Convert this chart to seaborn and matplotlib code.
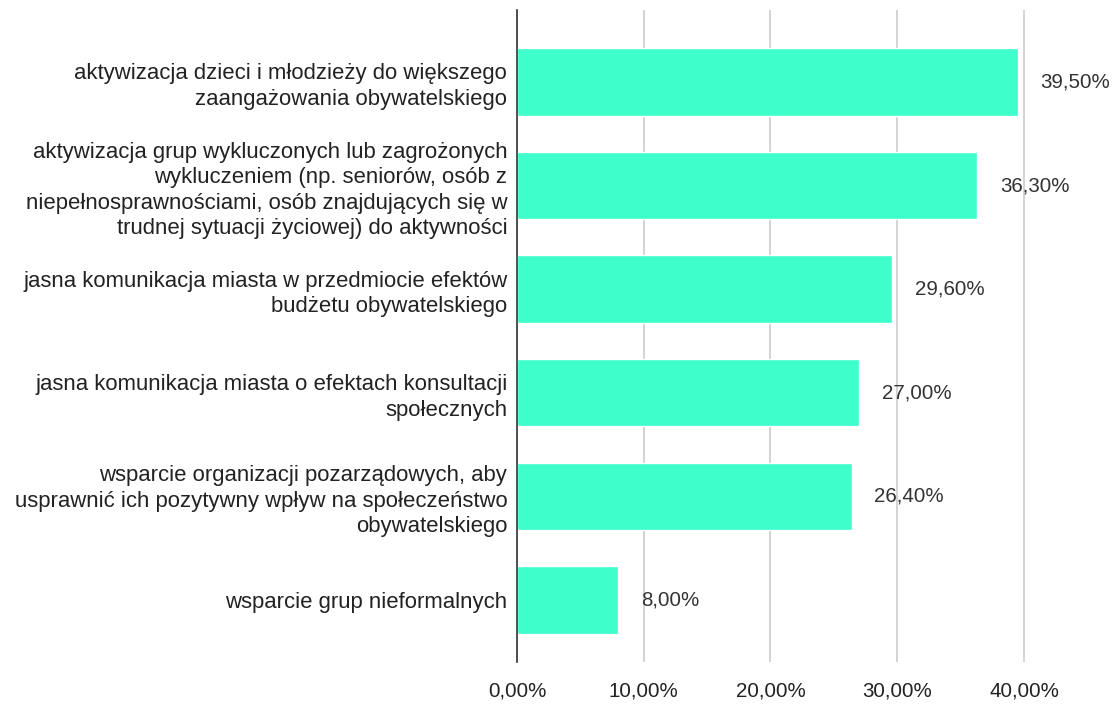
import pandas as pd
import numpy as np
import matplotlib
matplotlib.use("Agg")
import matplotlib.pyplot as plt
import seaborn as sns

# data
categories = [
    "aktywizacja dzieci i młodzieży do większego\nzaangażowania obywatelskiego",
    "aktywizacja grup wykluczonych lub zagrożonych\nwykluczeniem (np. seniorów, osób z\nniepełnosprawnościami, osób znajdujących się w\ntrudnej sytuacji życiowej) do aktywności",
    "jasna komunikacja miasta w przedmiocie efektów\nbudżetu obywatelskiego",
    "jasna komunikacja miasta o efektach konsultacji\nspołecznych",
    "wsparcie organizacji pozarządowych, aby\nusprawnić ich pozytywny wpływ na społeczeństwo\nobywatelskiego",
    "wsparcie grup nieformalnych",
]
values = [39.5, 36.3, 29.6, 27.0, 26.4, 8.0]
xticks = [0, 10, 20, 30, 40]

df = pd.DataFrame({"kategoria": categories, "procent": values})

sns.set_style("white")
plt.rcParams["font.family"] = ["Liberation Sans", "DejaVu Sans"]

fig = plt.figure(figsize=(11.15, 7.06), dpi=100)
ax = fig.add_axes([517 / 1115, 1 - 662 / 706, (1100 - 517) / 1115, (662 - 10) / 706])

sns.barplot(data=df, x="procent", y="kategoria", orient="h", color="#3effcb",
            saturation=1, width=0.65, ax=ax, zorder=3)

ax.set_xlim(0, 46)
ax.set_ylim(5.6, -0.695)
ax.set_xticks(xticks)
ax.set_xticklabels([f"{t:.2f}%".replace(".", ",") for t in xticks], fontsize=14.8, color="#222222")
ax.tick_params(axis="x", length=0, pad=14)
ax.tick_params(axis="y", length=0, pad=7)
for lab in ax.get_yticklabels():
    lab.set_fontsize(15.95)
    lab.set_color("#222222")
    lab.set_linespacing(1.28)
    lab.set_horizontalalignment("right")
    lab.set_multialignment("right")

ax.grid(axis="x", color="#cccccc", linewidth=1.2, zorder=0)
ax.grid(axis="y", visible=False)
for s in ["top", "right", "bottom"]:
    ax.spines[s].set_visible(False)
ax.spines["left"].set_color("#333333")
ax.spines["left"].set_linewidth(1.2)
ax.spines["left"].set_zorder(5)
ax.set_xlabel("")
ax.set_ylabel("")

for i, v in enumerate(values):
    ax.text(v + 1.8, i, f"{v:.2f}%".replace(".", ","), va="center", ha="left",
            fontsize=14.8, color="#333333")

plt.savefig("out.png", dpi=100)
